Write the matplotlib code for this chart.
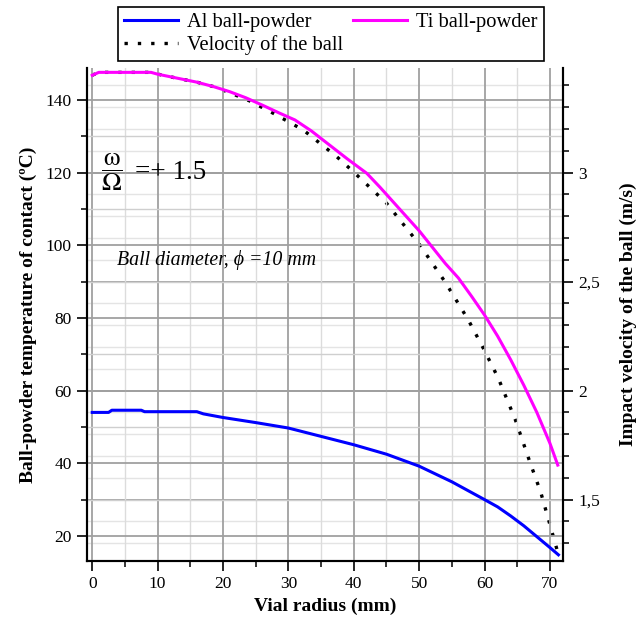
#!/usr/bin/env python3

"""Ball-powder contact temperature and impact velocity along the vial radius."""

import matplotlib
matplotlib.use('Agg')
import matplotlib.pyplot as plt
from matplotlib.ticker import MultipleLocator, FuncFormatter

# Ti ball-powder temperature (degC) vs vial radius (mm)
r_ti = [0, 1, 5, 9, 10, 13, 16, 18.5, 21, 23.5, 26, 28.5, 31, 33.5, 36, 39,
        42, 44, 46, 48, 50, 52, 54, 56, 58, 60, 62, 64, 66, 68, 70, 71.2]
t_ti = [146.8, 147.6, 147.6, 147.6, 147.1, 146.0, 144.9, 143.7, 142.3, 140.6,
        138.6, 136.5, 134.5, 131.5, 128.0, 123.8, 119.8, 116.0, 112.0, 108.0,
        104.0, 99.5, 95.0, 91.0, 86.0, 80.8, 75.0, 68.5, 61.5, 54.0, 45.5,
        39.5]

# Al ball-powder temperature (degC)
r_al = [0, 2.5, 3, 7.5, 8, 16, 17, 20, 25, 30, 35, 40, 45, 50, 55, 60, 62,
        64, 66, 68, 70, 71.3]
t_al = [54.0, 54.0, 54.6, 54.6, 54.2, 54.2, 53.6, 52.6, 51.2, 49.7, 47.4,
        45.1, 42.5, 39.2, 34.9, 30.0, 28.0, 25.5, 22.8, 19.8, 16.8, 14.8]

# impact velocity of the ball (m/s)
r_vel = [0, 1, 5, 9, 10, 13, 16, 18.5, 21, 24, 27.7, 32.3, 37.4, 39.9, 45,
         50.1, 54, 57.5, 59.8, 62.1, 64.7, 66.9, 68.6, 70, 71.3]
v_vel = [3.447, 3.46, 3.46, 3.46, 3.452, 3.433, 3.415, 3.395, 3.367, 3.33,
         3.272, 3.195, 3.073, 3.005, 2.86, 2.668, 2.497, 2.325, 2.195, 2.057,
         1.867, 1.675, 1.533, 1.385, 1.247]

plt.rcParams['font.family'] = ['Liberation Serif', 'DejaVu Serif']
plt.rcParams['mathtext.fontset'] = 'stix'

fig = plt.figure(figsize=(6.44, 6.24), dpi=100)
ax1 = fig.add_axes([87 / 644, 1 - 561 / 624, 476 / 644, 493 / 624])
ax2 = ax1.twinx()
# temperatures on top, velocity axis behind
ax1.set_zorder(ax2.get_zorder() + 1)
ax1.patch.set_visible(False)

l_al, = ax1.plot(r_al, t_al, color='#0000ff', lw=2.2, label='Al ball-powder')
l_ti, = ax1.plot(r_ti, t_ti, color='#ff00ff', lw=2.2, label='Ti ball-powder')
l_vel, = ax2.plot(r_vel, v_vel, color='black', lw=2.4,
                  linestyle=(0, (1, 3)), label='Velocity of the ball')

ax1.set_xlim(-0.8, 72)
ax1.set_ylim(13.1, 148.8)
ax2.set_ylim(1.218, 3.48)

ax1.xaxis.set_major_locator(MultipleLocator(10))
ax1.xaxis.set_minor_locator(MultipleLocator(5))
ax1.yaxis.set_major_locator(MultipleLocator(20))
ax1.yaxis.set_minor_locator(MultipleLocator(10))
ax2.yaxis.set_major_locator(MultipleLocator(0.5))
ax2.yaxis.set_minor_locator(MultipleLocator(0.1))
ax2.yaxis.set_major_formatter(FuncFormatter(lambda v, p: f'{v:g}'.replace('.', ',')))

# grids
ax1.grid(which='major', axis='x', color='#a0a0a0', lw=1.3)
ax1.grid(which='minor', axis='x', color='#dcdcdc', lw=1.0)
ax1.grid(which='major', axis='y', color='#a0a0a0', lw=1.3)
ax1.grid(which='minor', axis='y', color='#cfcfcf', lw=1.0)
ax2.grid(which='major', axis='y', color='#a0a0a0', lw=1.3)
ax2.grid(which='minor', axis='y', color='#e4e4e4', lw=1.0)

for ax in (ax1, ax2):
    ax.spines['top'].set_visible(False)
    for s in ('left', 'right', 'bottom'):
        ax.spines[s].set_linewidth(1.5)
        ax.spines[s].set_color('black')
    ax.tick_params(which='major', direction='out', length=7, width=1.2,
                   labelsize=12.5, pad=4)
    ax.tick_params(which='minor', direction='out', length=4.5, width=1.1)

ax1.set_xlabel('Vial radius (mm)', fontsize=14, fontweight='bold', labelpad=4)
ax1.set_ylabel('Ball-powder temperature of contact (ºC)', fontsize=14,
               fontweight='bold', labelpad=6)
ax2.set_ylabel('Impact velocity of the ball (m/s)', fontsize=14,
               fontweight='bold', labelpad=14)

ax1.text(0.03, 0.789, r'$\dfrac{\mathrm{\omega}}{\Omega}$', transform=ax1.transAxes,
         fontsize=19, va='center', ha='left')
ax1.text(0.10, 0.789, '=+ 1.5', transform=ax1.transAxes,
         fontsize=19.5, va='center', ha='left')
ax1.text(0.062, 0.61, 'Ball diameter, ϕ =10 mm', transform=ax1.transAxes,
         fontsize=14.3, style='italic', va='center', ha='left')

leg = fig.legend(handles=[l_al, l_vel, l_ti], loc='upper left',
                 bbox_to_anchor=(118 / 644, 1 - 6.7 / 624), ncol=2,
                 fontsize=14.8, frameon=True, fancybox=False, framealpha=1,
                 edgecolor='black', handlelength=2.6, handletextpad=0.45,
                 columnspacing=0.5, labelspacing=0.15, borderpad=0.3,
                 borderaxespad=0)
leg.get_frame().set_linewidth(1.2)

plt.savefig('out.png', dpi=100)
